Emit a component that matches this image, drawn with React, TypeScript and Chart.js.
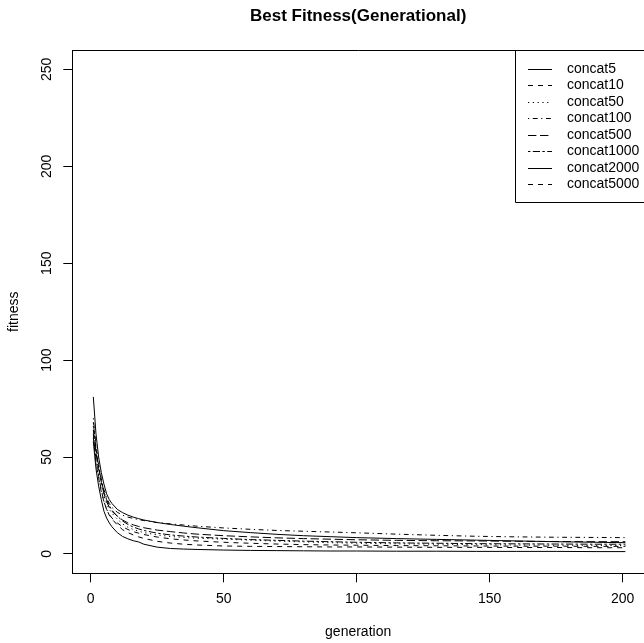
import React, { useEffect, useRef } from "react";
import { Chart, registerables } from "chart.js";

Chart.register(...registerables);

const FONT = "'Liberation Sans', Arial, Helvetica, sans-serif";

const TITLE = "Best Fitness(Generational)";
const X_LABEL = "generation";
const Y_LABEL = "fitness";

const X_TICKS = [0, 50, 100, 150, 200];
const Y_TICKS = [0, 50, 100, 150, 200, 250];

const GEN = [1, 2, 3, 4, 5, 6, 7, 8, 10, 12, 14, 16, 18, 20, 25, 30, 35, 40, 50, 60, 70, 80, 90, 100, 115, 130, 145, 160, 175, 190, 201];

const SERIES_NAMES = ["concat5", "concat10", "concat50", "concat100", "concat500", "concat1000", "concat2000", "concat5000"];

const CONCAT5 = [58, 44, 35, 28, 22, 18.5, 16, 14, 11, 9, 7.8, 6.8, 6.2, 5, 3.5, 2.8, 2.5, 2.3, 2.0, 1.8, 1.7, 1.6, 1.5, 1.5, 1.4, 1.4, 1.3, 1.3, 1.3, 1.2, 1.2];
const CONCAT10 = [62, 49, 40, 33, 27, 23, 20, 18, 15, 12.5, 11, 9.8, 8.8, 8, 6.5, 5.6, 5, 4.6, 4.1, 3.9, 3.8, 3.7, 3.6, 3.6, 3.5, 3.4, 3.4, 3.3, 3.3, 3.2, 3.2];
const CONCAT50 = [66, 52, 43, 36, 30, 26, 23, 21, 18, 15.5, 13.8, 12.6, 11.7, 11, 9.8, 9, 8.5, 8.1, 7.6, 7.1, 6.6, 6.2, 5.8, 5.5, 5.2, 5, 4.8, 4.6, 4.5, 4.4, 4.3];
const CONCAT100 = [70, 56, 46, 39, 33, 29, 26, 24, 21.5, 20, 19, 18.3, 17.7, 17.2, 16.2, 15.5, 14.9, 14.3, 13.4, 12.7, 12.1, 11.7, 11.3, 10.9, 10.2, 9.6, 9.1, 8.8, 8.6, 8.5, 8.4];
const CONCAT500 = [64, 52, 44, 37, 31, 27, 24, 22, 19.5, 17.5, 16, 15, 14.2, 13.5, 12.3, 11.5, 10.8, 10.2, 9.4, 8.8, 8.3, 7.9, 7.6, 7.3, 7.0, 6.8, 6.7, 6.5, 6.4, 6.3, 6.3];
const CONCAT1000 = [68, 54, 45, 38, 32, 28, 25, 22.5, 19.5, 17, 15.2, 13.9, 12.9, 12.1, 10.7, 9.8, 9.2, 8.7, 8.0, 7.4, 7.0, 6.6, 6.3, 6.0, 5.7, 5.5, 5.3, 5.2, 5.1, 5.0, 5.0];
const CONCAT2000 = [81, 62, 50, 42, 36, 31, 28, 26, 23, 21.3, 20, 19, 18.2, 17.5, 16.2, 15.2, 14.3, 13.5, 12, 11, 10.1, 9.4, 8.9, 8.4, 7.9, 7.5, 7.1, 6.7, 6.3, 6.0, 5.8];
const CONCAT5000 = [60, 47, 39, 32, 27, 23, 20.5, 18.5, 16, 14, 12.6, 11.5, 10.7, 10, 8.7, 7.8, 7.2, 6.7, 6.0, 5.5, 5.1, 4.8, 4.6, 4.5, 4.3, 4.2, 4.1, 4.0, 4.0, 3.9, 3.9];

const SERIES_VALUES = [CONCAT5, CONCAT10, CONCAT50, CONCAT100, CONCAT500, CONCAT1000, CONCAT2000, CONCAT5000];

// R line types: solid, dashed, dotted, dotdash, longdash, twodash (recycled)
const DASHES: number[][] = [
  [],
  [5, 5],
  [1.2, 3.6],
  [1.2, 3.6, 4.8, 3.6],
  [8.4, 3.6],
  [2.4, 2.4, 7.2, 2.4],
  [],
  [5, 5],
];

const decorPlugin = {
  id: "rdecor",
  afterDraw(chart: any) {
    const ctx = chart.ctx as CanvasRenderingContext2D;
    const area = chart.chartArea;
    const yScale = chart.scales.y;
    ctx.save();
    ctx.strokeStyle = "#000";
    ctx.fillStyle = "#000";
    ctx.lineWidth = 1;
    // top border of plot box
    ctx.beginPath();
    ctx.moveTo(Math.round(area.left) + 0.5, Math.round(area.top) + 0.5);
    ctx.lineTo(chart.width + 2, Math.round(area.top) + 0.5);
    ctx.stroke();

    // y tick labels (rotated, as in R)
    ctx.font = `14px ${FONT}`;
    ctx.textAlign = "center";
    ctx.textBaseline = "middle";
    for (const v of Y_TICKS) {
      const py = yScale.getPixelForValue(v);
      ctx.save();
      ctx.translate(47, py);
      ctx.rotate(-Math.PI / 2);
      ctx.fillText(String(v), 0, 0);
      ctx.restore();
    }

    const cx = (area.left + chart.width) / 2;
    // title
    ctx.font = `bold 17px ${FONT}`;
    ctx.fillText(TITLE, cx, 16);
    // axis titles
    ctx.font = `14px ${FONT}`;
    ctx.fillText(X_LABEL, cx, 632);
    ctx.save();
    ctx.translate(14, (area.top + area.bottom) / 2);
    ctx.rotate(-Math.PI / 2);
    ctx.fillText(Y_LABEL, 0, 0);
    ctx.restore();

    // legend
    const lx = 515.5;
    const ly = Math.round(area.top) + 0.5;
    const lb = 202.5;
    ctx.beginPath();
    ctx.moveTo(chart.width + 2, ly);
    ctx.lineTo(lx, ly);
    ctx.lineTo(lx, lb);
    ctx.lineTo(chart.width + 2, lb);
    ctx.stroke();
    ctx.textAlign = "left";
    SERIES_NAMES.forEach((name, i) => {
      const y = 68.5 + i * 16.5;
      ctx.save();
      ctx.setLineDash(DASHES[i]);
      ctx.beginPath();
      ctx.moveTo(528, Math.round(y) + 0.5);
      ctx.lineTo(552, Math.round(y) + 0.5);
      ctx.stroke();
      ctx.restore();
      ctx.fillText(name, 567, y + 0.5);
    });
    ctx.restore();
  },
};

export default function App() {
  const ref = useRef<HTMLCanvasElement | null>(null);
  useEffect(() => {
    if (!ref.current) return;
    const datasets = SERIES_NAMES.map((name, i) => ({
      label: name,
      data: GEN.map((g, j) => ({ x: g, y: SERIES_VALUES[i][j] })),
      borderColor: "#000",
      backgroundColor: "#000",
      borderWidth: 1,
      borderDash: DASHES[i],
      pointRadius: 0,
      tension: 0,
      fill: false,
    }));
    const chart = new Chart(ref.current, {
      type: "line",
      data: { datasets },
      options: {
        responsive: false,
        animation: false,
        devicePixelRatio: 1,
        layout: { padding: { top: 50, left: 0, right: 0, bottom: 0 } },
        plugins: {
          legend: { display: false },
          title: { display: false },
          tooltip: { enabled: false },
        },
        scales: {
          x: {
            type: "linear",
            min: -6.9,
            max: 208,
            afterBuildTicks: (s: any) => {
              s.ticks = X_TICKS.map((v) => ({ value: v }));
            },
            afterFit: (s: any) => {
              s.height = 69.7;
            },
            grid: {
              display: true,
              drawOnChartArea: false,
              drawTicks: true,
              tickLength: 9,
              color: "#000",
              lineWidth: 1,
            },
            border: { display: true, color: "#000", width: 1 },
            ticks: {
              color: "#000",
              font: { size: 14, family: FONT },
              padding: 8,
              maxRotation: 0,
              minRotation: 0,
              autoSkip: false,
            },
          },
          y: {
            type: "linear",
            min: -10,
            max: 260,
            afterBuildTicks: (s: any) => {
              s.ticks = Y_TICKS.map((v) => ({ value: v }));
            },
            afterFit: (s: any) => {
              s.width = 72.3;
            },
            grid: {
              display: true,
              drawOnChartArea: false,
              drawTicks: true,
              tickLength: 9,
              color: "#000",
              lineWidth: 1,
            },
            border: { display: true, color: "#000", width: 1 },
            ticks: { display: false },
          },
        },
      },
      plugins: [decorPlugin],
    });
    return () => chart.destroy();
  }, []);
  return (
    <div style={{ position: "absolute", left: 0, top: 0, width: 644, height: 643, background: "#fff" }}>
      <canvas ref={ref} width={644} height={643} style={{ width: 644, height: 643, display: "block" }} />
    </div>
  );
}
